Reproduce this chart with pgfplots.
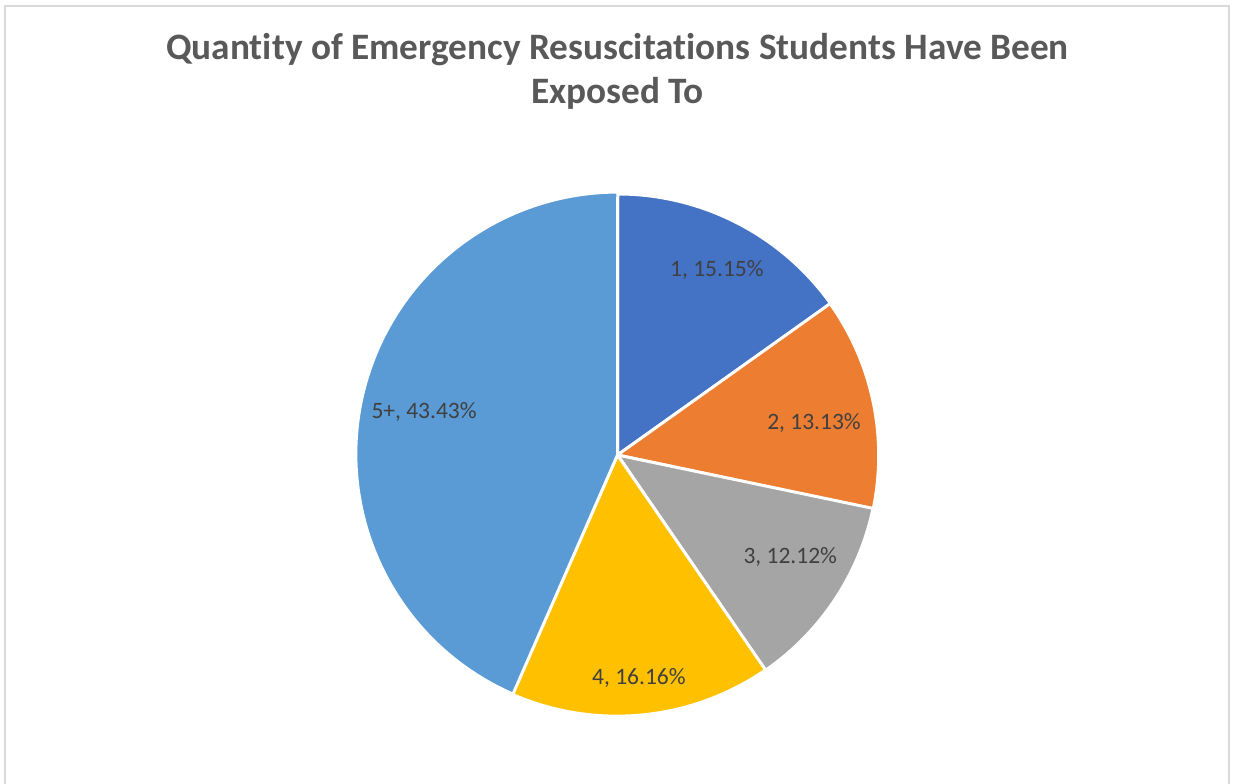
\documentclass[border=0pt]{standalone}
\usepackage{pgfplots}
\usepackage{pgfplotstable}
\pgfplotsset{compat=1.18}
\usepackage{fontspec}
\setmainfont{Carlito}[Ligatures={NoCommon}]
\definecolor{c0}{HTML}{4472C4}
\definecolor{c1}{HTML}{ED7D31}
\definecolor{c2}{HTML}{A5A5A5}
\definecolor{c3}{HTML}{FFC000}
\definecolor{c4}{HTML}{5B9BD5}
\definecolor{titlegray}{HTML}{595959}
\definecolor{labgray}{HTML}{404040}
\definecolor{framegray}{HTML}{D9D9D9}

\pgfplotstableread{
label value lx ly
1 15.15 0.381 0.683
2 13.13 0.753 0.096
3 12.12 0.662 -0.415
4 16.16 0.082 -0.881
5+ 43.43 -0.741 0.141
}\piedata

\begin{document}
\begin{tikzpicture}[x=1bp,y=1bp]
\useasboundingbox (0,0) rectangle (1235,784);
\fill[white] (0,0) rectangle (1235,784);
\draw[framegray, line width=2bp] (5,-10) -- (5,777.5) -- (1229,777.5) -- (1229,-10);
\node[anchor=base, font=\fontsize{37.3bp}{44bp}\selectfont\bfseries, text=titlegray, inner sep=0pt] at (617.5,724) {Quant\kern0pt ity of Emergency Resuscitat\kern0pt ions Students Have Been};
\node[anchor=base, font=\fontsize{37.3bp}{44bp}\selectfont\bfseries, text=titlegray, inner sep=0pt] at (617.5,680) {Exposed To};
\begin{axis}[
  at={(617.5bp,329bp)}, anchor=center,
  scale only axis, width=522bp, height=522bp,
  xmin=-1, xmax=1, ymin=-1, ymax=1,
  hide axis, clip=false,
]
\def\acc{90}
\pgfplotsforeachungrouped \i in {0,...,4}{%
  \pgfplotstablegetelem{\i}{value}\of\piedata \let\v=\pgfplotsretval
  \pgfmathsetmacro{\endang}{\acc-3.6*\v}%
  \edef\cmd{\noexpand\filldraw[c\i, draw=white, line width=3bp, line join=round] (axis cs:0,0) -- (axis cs:{cos(\acc)},{sin(\acc)}) arc[start angle=\acc, end angle=\endang, radius=262bp] -- cycle;}%
  \cmd
  \let\acc=\endang
}
\pgfplotsforeachungrouped \i in {0,...,4}{%
  \pgfplotstablegetelem{\i}{value}\of\piedata \let\v=\pgfplotsretval
  \pgfplotstablegetelem{\i}{label}\of\piedata \let\l=\pgfplotsretval
  \pgfplotstablegetelem{\i}{lx}\of\piedata \let\lx=\pgfplotsretval
  \pgfplotstablegetelem{\i}{ly}\of\piedata \let\ly=\pgfplotsretval
  \edef\cmd{\noexpand\node[anchor=base, inner sep=0pt, text=labgray, font=\noexpand\fontsize{23.5bp}{28bp}\noexpand\selectfont] at (axis cs:\lx,\ly) {\l, \v\noexpand\%};}%
  \cmd
}
\end{axis}
\end{tikzpicture}
\end{document}
